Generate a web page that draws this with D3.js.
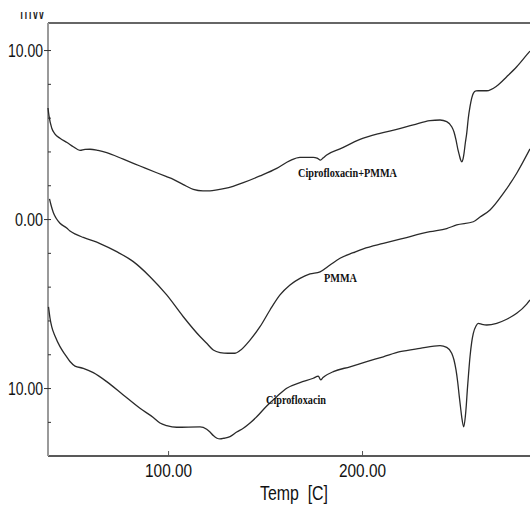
<!DOCTYPE html>
<html>
<head>
<meta charset="utf-8">
<script src="https://cdn.jsdelivr.net/npm/d3@7"></script>
<style>
html,body{margin:0;padding:0;background:#fff;}
svg{display:block;}
</style>
</head>
<body>
<svg id="chart" width="530" height="506"></svg>
<script>
// ---- Data (Temp in C, heat flow in mW) ----
const cipPmmaT = [38.1,38.62,40.01,41.71,44.29,47.90,51.14,54.60,57.18,59.75,63.88,68.36,76.92,85.53,94.14,98.94,102.70,107.86,113.01,118.01,121.62,125.23,129.36,133.48,138.79,147.40,156.01,162.87,168.02,174.88,176.79,178.59,179.88,181.79,188.65,198.96,209.27,217.88,226.44,235.05,240.20,243.66,246.24,247.42,248.45,249.48,250.15,250.77,251.39,252.06,252.58,253.25,253.97,254.80,255.67,256.55,257.37,258.76,259.95,264.28,269.44,274.59,279.75,284.90,286.60];
const cipPmmaV = [6.57,6.10,5.39,5.03,4.78,4.53,4.28,4.06,4.12,4.13,4.06,3.93,3.54,3.14,2.74,2.52,2.35,2.04,1.76,1.67,1.67,1.72,1.81,1.94,2.15,2.55,3.00,3.46,3.65,3.65,3.61,3.49,3.61,3.79,4.15,4.71,5.07,5.31,5.57,5.82,5.86,5.76,5.46,5.15,4.68,4.09,3.79,3.52,3.39,3.55,3.89,4.50,5.07,5.98,6.65,7.16,7.44,7.58,7.59,7.59,7.87,8.42,9.01,9.71,9.94];

const pmmaT = [38.87,39.65,40.83,42.22,44.29,47.74,49.44,52.54,56.30,64.91,73.52,82.08,90.69,99.30,107.86,116.47,119.92,123.32,126.78,130.90,134.51,137.09,142.25,147.40,152.56,157.71,162.87,168.02,173.18,178.34,183.49,188.65,195.50,200.66,210.97,221.28,235.05,243.66,248.81,257.37,260.83,265.98,272.84,279.75,286.60];
const pmmaV = [1.19,0.83,0.39,0.06,-0.25,-0.53,-0.71,-0.91,-1.09,-1.45,-1.93,-2.52,-3.41,-4.49,-5.78,-6.95,-7.35,-7.75,-7.90,-7.94,-7.94,-7.78,-7.16,-6.37,-5.38,-4.49,-3.90,-3.51,-3.25,-3.12,-2.72,-2.32,-1.99,-1.76,-1.44,-1.14,-0.75,-0.56,-0.35,-0.16,0.12,0.54,1.52,2.71,4.15];

const cipT = [38.36,39.13,40.01,41.71,44.29,46.86,49.44,52.02,56.30,61.46,68.36,76.92,85.53,92.39,95.84,99.30,104.45,116.47,119.92,121.62,123.32,125.23,126.78,128.83,131.93,135.39,138.79,142.25,145.70,150.86,156.01,161.17,168.02,174.88,177.46,178.70,179.88,180.91,185.19,193.80,202.41,210.97,219.58,229.89,240.20,243.66,246.24,247.42,248.45,249.32,250.15,250.77,251.39,252.43,253.25,253.77,254.28,255.00,255.67,256.55,257.37,258.76,259.95,261.86,264.28,269.44,274.59,279.75,284.90,286.60];
const cipV = [-5.20,-5.86,-6.37,-6.92,-7.55,-8.01,-8.43,-8.70,-8.83,-9.09,-9.62,-10.41,-11.20,-11.74,-12.07,-12.22,-12.32,-12.30,-12.44,-12.60,-12.81,-12.97,-13.01,-12.97,-12.87,-12.60,-12.38,-12.07,-11.70,-11.06,-10.51,-10.01,-9.68,-9.42,-9.29,-9.52,-9.38,-9.29,-9.03,-8.74,-8.44,-8.15,-7.85,-7.65,-7.49,-7.59,-7.94,-8.34,-8.93,-9.64,-10.51,-11.12,-11.70,-12.29,-11.70,-11.00,-10.12,-9.05,-8.15,-7.28,-6.76,-6.33,-6.17,-6.23,-6.27,-6.17,-5.93,-5.58,-5.03,-4.79];

const seriesNames = ["Ciprofloxacin+PMMA","PMMA","Ciprofloxacin"];
const xTickValues = [100, 200];
const yTickValues = [10, 0, -10];
const yTickLabels = ["10.00", "0.00", "10.00"];
const yMinorTicks = [10, 8, 6, 4, 2, 0, -2, -4, -6, -8, -10, -12];
const xTitle = "Temp  [C]";
const yUnit = "mW";

// ---- Layout ----
const svg = d3.select("#chart");
const mLeft = 48, mRight = 530, mTop = 23, mBottom = 456;
const x = d3.scaleLinear().domain([38.1, 286.6]).range([mLeft, mRight]);
const y = d3.scaleLinear().domain([-14.02, 11.6]).range([mBottom, mTop]);

// frame
svg.append("line").attr("x1", mLeft).attr("x2", mRight).attr("y1", mTop).attr("y2", mTop)
  .attr("stroke", "#333").attr("stroke-width", 1.5);
svg.append("line").attr("x1", mLeft).attr("x2", mRight).attr("y1", mBottom).attr("y2", mBottom)
  .attr("stroke", "#222").attr("stroke-width", 1.5);
svg.append("line").attr("x1", mLeft).attr("x2", mLeft).attr("y1", mTop).attr("y2", mBottom)
  .attr("stroke", "#9a9a9a").attr("stroke-width", 2);

// y minor ticks (inside)
const yMinor = svg.append("g").attr("transform", `translate(${mLeft},0)`)
  .call(d3.axisRight(y).tickValues(yMinorTicks).tickSize(3).tickFormat(""));
yMinor.select(".domain").remove();
yMinor.selectAll("line").attr("stroke", "#333").attr("stroke-width", 1);

// y major ticks + labels
const yAx = svg.append("g").attr("transform", `translate(${mLeft},0)`)
  .call(d3.axisLeft(y).tickValues(yTickValues).tickSizeInner(4).tickSizeOuter(0).tickPadding(1)
    .tickFormat((d, i) => yTickLabels[i]));
yAx.select(".domain").remove();
yAx.selectAll("line").attr("stroke", "#333").attr("stroke-width", 1);
yAx.selectAll("text")
  .attr("font-family", "Liberation Sans, Arial, sans-serif").attr("font-size", 19)
  .attr("fill", "#111")
  .attr("lengthAdjust", "spacingAndGlyphs")
  .attr("textLength", (d, i) => yTickLabels[i].length === 5 ? 35 : 28);

// x axis ticks + labels
const xAx = svg.append("g").attr("transform", `translate(0,${mBottom})`)
  .call(d3.axisBottom(x).tickValues(xTickValues).tickSizeInner(-5).tickSizeOuter(0).tickPadding(8)
    .tickFormat(d3.format(".2f")));
xAx.select(".domain").remove();
xAx.selectAll("line").attr("stroke", "#555").attr("stroke-width", 1);
xAx.selectAll("text")
  .attr("font-family", "Liberation Sans, Arial, sans-serif").attr("font-size", 18)
  .attr("fill", "#111")
  .attr("lengthAdjust", "spacingAndGlyphs").attr("textLength", 47);

// x title
svg.append("text").attr("x", 294).attr("y", 500).attr("text-anchor", "middle")
  .attr("font-family", "Liberation Sans, Arial, sans-serif").attr("font-size", 20)
  .attr("fill", "#111").attr("xml:space", "preserve")
  .attr("lengthAdjust", "spacingAndGlyphs").attr("textLength", 68)
  .text(xTitle);

// clipped unit label at top-left
svg.append("clipPath").attr("id", "unitClip")
  .append("rect").attr("x", 0).attr("y", 12).attr("width", 60).attr("height", 12);
svg.append("text").attr("x", 20).attr("y", 18.5).attr("clip-path", "url(#unitClip)")
  .attr("font-family", "Liberation Sans, Arial, sans-serif").attr("font-size", 20)
  .attr("fill", "#222").attr("lengthAdjust", "spacingAndGlyphs").attr("textLength", 25)
  .text(yUnit);

// curves
const series = [
  {name: seriesNames[0], t: cipPmmaT, v: cipPmmaV},
  {name: seriesNames[1], t: pmmaT, v: pmmaV},
  {name: seriesNames[2], t: cipT, v: cipV}
];
const line = d3.line().x(d => x(d[0])).y(d => y(d[1])).curve(d3.curveMonotoneX);
svg.append("g").selectAll("path").data(series).join("path")
  .attr("d", s => line(s.t.map((t, i) => [t, s.v[i]])))
  .attr("fill", "none").attr("stroke", "#2a2a2a").attr("stroke-width", 1.3)
  .attr("stroke-linejoin", "round");

// curve labels
const labelPos = [
  {x: 347.5, y: 177, w: 99},
  {x: 340.5, y: 282, w: 33},
  {x: 296, y: 404, w: 60}
];
svg.append("g").selectAll("text").data(series).join("text")
  .attr("x", (s, i) => labelPos[i].x).attr("y", (s, i) => labelPos[i].y)
  .attr("text-anchor", "middle")
  .attr("font-family", "Liberation Serif, Times New Roman, serif").attr("font-weight", "bold")
  .attr("font-size", 13).attr("fill", "#111")
  .attr("lengthAdjust", "spacingAndGlyphs").attr("textLength", (s, i) => labelPos[i].w)
  .text(s => s.name);
</script>
</body>
</html>
